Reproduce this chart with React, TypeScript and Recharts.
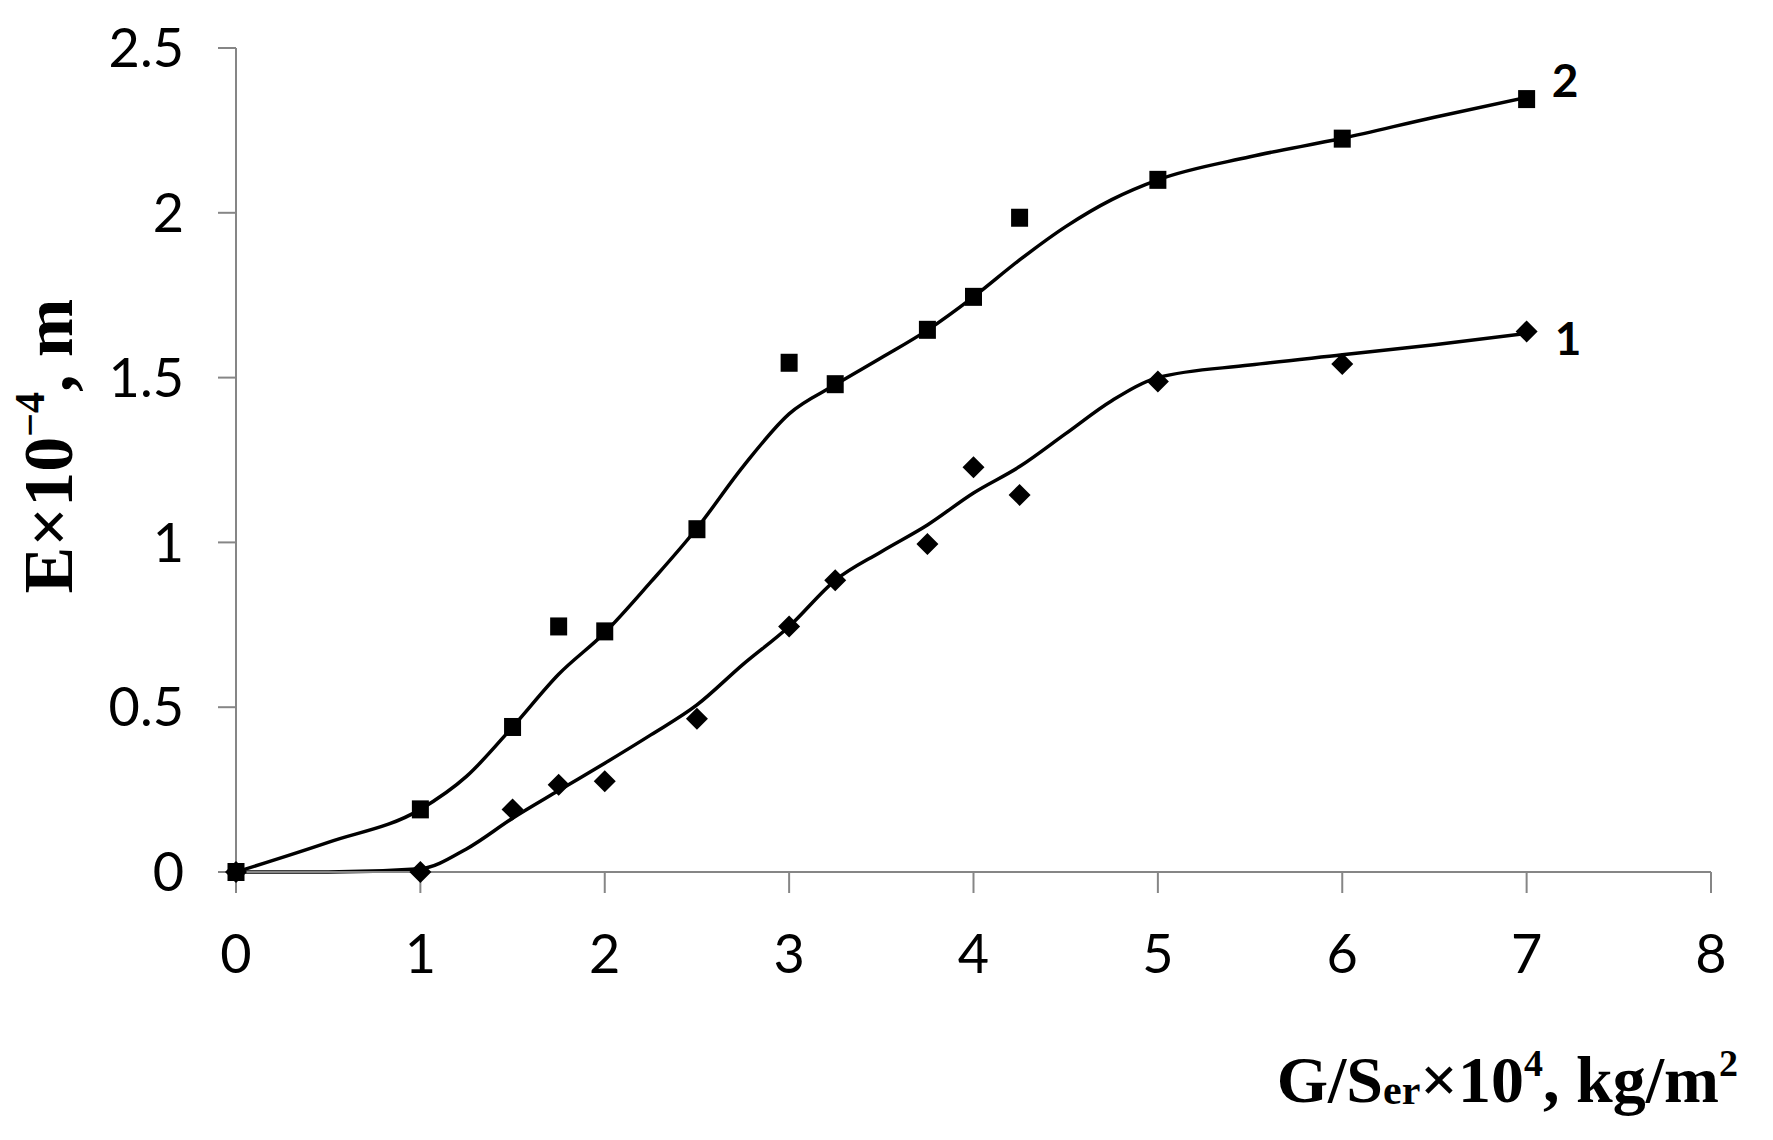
import { ComposedChart, Label, Line, Scatter, XAxis, YAxis } from "recharts";

const xTicks = [0, 1, 2, 3, 4, 5, 6, 7, 8];
const yTicks = [0, 0.5, 1, 1.5, 2, 2.5];

// measured points (G/Ser x 10^4)
const loadX = [0, 1, 1.5, 1.75, 2, 2.5, 3, 3.25, 3.75, 4, 4.25, 5, 6, 7];
const erosion1 = [0, 0, 0.19, 0.265, 0.275, 0.465, 0.745, 0.885, 0.995, 1.228, 1.144, 1.488, 1.541, 1.64];
const erosion2 = [0, 0.19, 0.44, 0.745, 0.73, 1.04, 1.545, 1.48, 1.645, 1.745, 1.985, 2.1, 2.225, 2.345];

// smoothed curves
const fitX = [0, 0.5, 1, 1.25, 1.5, 1.75, 2, 2.25, 2.5, 2.75, 3, 3.25, 3.5, 3.75, 4, 4.25, 4.5, 4.75, 5, 5.5, 6, 6.5, 7];
const fit1 = [0, 0, 0.01, 0.07, 0.163, 0.247, 0.33, 0.416, 0.507, 0.63, 0.745, 0.885, 0.972, 1.053, 1.15, 1.23, 1.33, 1.43, 1.5, 1.538, 1.569, 1.6, 1.634];
const fit2 = [0, 0.09, 0.19, 0.29, 0.44, 0.6, 0.726, 0.88, 1.043, 1.23, 1.39, 1.478, 1.56, 1.644, 1.745, 1.857, 1.958, 2.04, 2.1, 2.17, 2.226, 2.29, 2.35];

const points1 = loadX.map((x, i) => ({ x, y: erosion1[i] }));
const points2 = loadX.map((x, i) => ({ x, y: erosion2[i] }));
const curve1 = fitX.map((x, i) => ({ x, y: fit1[i] }));
const curve2 = fitX.map((x, i) => ({ x, y: fit2[i] }));

const axisGrey = "#868686";
const tickFont = { fontFamily: "Lato, 'Open Sans', sans-serif", fontSize: 54, fill: "#000" };
const titleFont = "'Liberation Serif', 'Times New Roman', serif";

const Square = (p: any) => <rect x={p.cx - 8.5} y={p.cy - 9} width={17} height={18} fill="#000" />;

const Diamond = (p: any) => (
  <polygon
    points={`${p.cx},${p.cy - 11} ${p.cx + 11},${p.cy} ${p.cx},${p.cy + 11} ${p.cx - 11},${p.cy}`}
    fill="#000"
  />
);

const endLabel = (text: string, dx: number, dy: number, last: number) => (props: any) =>
  props.index === last ? (
    <text
      x={props.x + dx}
      y={props.y + dy}
      fontFamily="Lato, sans-serif"
      fontWeight={700}
      fontSize={46}
      fill="#000"
    >
      {text}
    </text>
  ) : null;

const yTitle = (props: any) => {
  const vb = props.viewBox;
  const x = vb.x + 72;
  const y = vb.y + vb.height / 2 - 14;
  return (
    <text
      x={x}
      y={y}
      transform={`rotate(-90 ${x} ${y})`}
      textAnchor="middle"
      fontFamily={titleFont}
      fontWeight={700}
      fontSize={70}
      fill="#000"
    >
      E×10
      <tspan fontSize={42} dy={-28}>−4</tspan>
      <tspan dy={28}>, m</tspan>
    </text>
  );
};

const xTitle = (props: any) => {
  const vb = props.viewBox;
  return (
    <text
      x={vb.x + vb.width + 27}
      y={vb.y + 230}
      textAnchor="end"
      fontFamily={titleFont}
      fontWeight={700}
      fontSize={66}
      fill="#000"
    >
      G/S
      <tspan fontSize={42} dy={2}>er</tspan>
      <tspan dy={-2}>×10</tspan>
      <tspan fontSize={38} dy={-26}>4</tspan>
      <tspan dy={26}>, kg/m</tspan>
      <tspan fontSize={38} dy={-26}>2</tspan>
    </text>
  );
};

export default function App() {
  return (
    <div style={{ position: "absolute", left: 0, top: 0, background: "#fff" }}>
      <ComposedChart width={1773} height={1140} margin={{ top: 48, right: 62, bottom: 168, left: 0 }}>
        <XAxis
          type="number"
          dataKey="x"
          domain={[0, 8]}
          ticks={xTicks}
          height={100}
          stroke={axisGrey}
          strokeWidth={2}
          tickSize={21}
          tickMargin={42}
          tick={tickFont}
        >
          <Label content={xTitle} />
        </XAxis>
        <YAxis
          type="number"
          dataKey="y"
          domain={[0, 2.5]}
          ticks={yTicks}
          width={236}
          stroke={axisGrey}
          strokeWidth={2}
          tickSize={18}
          tickMargin={34}
          tick={tickFont}
        >
          <Label content={yTitle} />
        </YAxis>
        <Line
          data={curve2}
          dataKey="y"
          type="monotone"
          stroke="#000"
          strokeWidth={3.5}
          dot={false}
          activeDot={false}
          isAnimationActive={false}
          label={endLabel("2", 25, 0, fitX.length - 1)}
        />
        <Line
          data={curve1}
          dataKey="y"
          type="monotone"
          stroke="#000"
          strokeWidth={3.5}
          dot={false}
          activeDot={false}
          isAnimationActive={false}
          label={endLabel("1", 28, 22, fitX.length - 1)}
        />
        <Scatter data={points2} dataKey="y" shape={Square} isAnimationActive={false} />
        <Scatter data={points1} dataKey="y" shape={Diamond} isAnimationActive={false} />
      </ComposedChart>
    </div>
  );
}
